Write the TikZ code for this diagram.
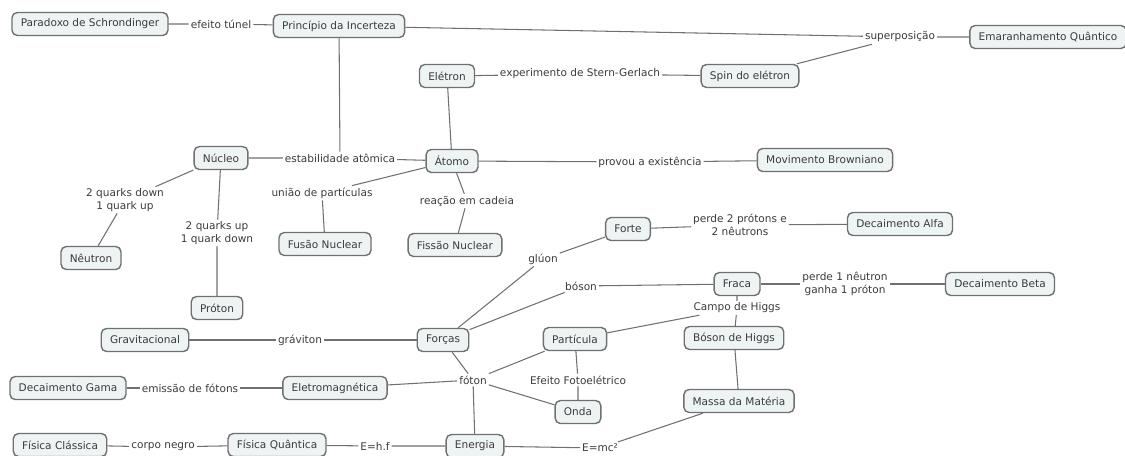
\documentclass[tikz,border=0pt]{standalone}
\usepackage{fontspec}
\setmainfont{DejaVu Sans}
\usepackage{tikz}
\definecolor{fundo}{HTML}{EEF3F4}
\definecolor{borda}{HTML}{707070}
\definecolor{texto}{HTML}{3C3C3C}
\tikzstyle{conceito} = [draw=borda, fill=fundo, line width=0.8pt, rectangle, rounded corners=3pt, minimum height=0.46cm, inner xsep=5pt, text=texto, font=\fontsize{6}{7}\selectfont]
\tikzstyle{ligacao} = [fill=white, inner sep=1pt, text=texto, align=center, font=\fontsize{6}{7}\selectfont]
\tikzstyle{linha} = [draw=borda, line width=0.6pt]

\begin{document}
\begin{tikzpicture}[x=0.02cm, y=-0.02cm]
	\useasboundingbox (0,0) rectangle (1125,456);
	% conceitos
	\node[conceito] (paradoxo) at (90,24) {Paradoxo de Schrondinger};
	\node[conceito] (incerteza) at (339,26) {Princípio da Incerteza};
	\node[conceito] (emaranhamento) at (1048,37) {Emaranhamento Quântico};
	\node[conceito] (eletron) at (447,76) {Elétron};
	\node[conceito] (spin) at (750,76) {Spin do elétron};
	\node[conceito] (nucleo) at (221,158) {Núcleo};
	\node[conceito] (atomo) at (452,161) {Átomo};
	\node[conceito] (browniano) at (825,160) {Movimento Browniano};
	\node[conceito] (forte) at (628,229) {Forte};
	\node[conceito] (alfa) at (900,224) {Decaimento Alfa};
	\node[conceito] (fusao) at (325,244) {Fusão Nuclear};
	\node[conceito] (fissao) at (455,245) {Fissão Nuclear};
	\node[conceito] (neutron) at (91,258) {Nêutron};
	\node[conceito] (proton) at (217,308) {Próton};
	\node[conceito] (fraca) at (737,284) {Fraca};
	\node[conceito] (beta) at (1000,284) {Decaimento Beta};
	\node[conceito] (gravitacional) at (145,340) {Gravitacional};
	\node[conceito] (forcas) at (443,340) {Forças};
	\node[conceito] (particula) at (575,339) {Partícula};
	\node[conceito] (higgs) at (734,338) {Bóson de Higgs};
	\node[conceito] (gama) at (68,388) {Decaimento Gama};
	\node[conceito] (eletromag) at (335,388) {Eletromagnética};
	\node[conceito] (onda) at (578,412) {Onda};
	\node[conceito] (massa) at (739,401) {Massa da Matéria};
	\node[conceito] (classica) at (60,445) {Física Clássica};
	\node[conceito] (quantica) at (277,445) {Física Quântica};
	\node[conceito] (energia) at (475,446) {Energia};
	% frases de ligacao
	\node[ligacao] (tunel) at (221,24) {efeito túnel};
	\node[ligacao] (superpos) at (900,37) {superposição};
	\node[ligacao] (stern) at (580,74) {experimento de Stern-Gerlach};
	\node[ligacao] (estab) at (340,158) {estabilidade atômica};
	\node[ligacao] (provou) at (650,162) {provou a existência};
	\node[ligacao] (uniao) at (322,193) {união de partículas};
	\node[ligacao] (reacao) at (467,201) {reação em cadeia};
	\node[ligacao] (qdown) at (125,200) {2 quarks down\\1 quark up};
	\node[ligacao] (qup) at (217,233) {2 quarks up\\1 quark down};
	\node[ligacao] (perde2) at (740,225) {perde 2 prótons e\\2 nêutrons};
	\node[ligacao] (gluon) at (543,259) {glúon};
	\node[ligacao] (boson) at (581,286) {bóson};
	\node[ligacao] (perde1) at (845,284) {perde 1 nêutron\\ganha 1 próton};
	\node[ligacao] (campo) at (737,308) {Campo de Higgs};
	\node[ligacao] (graviton) at (300,340) {gráviton};
	\node[ligacao] (foton) at (473,380) {fóton};
	\node[ligacao] (fotoel) at (578,380) {Efeito Fotoelétrico};
	\node[ligacao] (emissao) at (190,388) {emissão de fótons};
	\node[ligacao] (corpo) at (163,447) {corpo negro};
	\node[ligacao] (ehf) at (375,446) {E=h.f};
	\node[ligacao] (emc) at (600,448) {E=mc²};
	% ligacoes
	\draw[linha] (paradoxo) -- (tunel) -- (incerteza);
	\draw[linha] (incerteza) -- (superpos) -- (emaranhamento);
	\draw[linha] (spin) -- (superpos);
	\draw[linha] (incerteza) -- (estab);
	\draw[linha] (nucleo) -- (estab) -- (atomo);
	\draw[linha] (eletron) -- (stern) -- (spin);
	\draw[linha] (eletron) -- (atomo);
	\draw[linha] (atomo) -- (provou) -- (browniano);
	\draw[linha] (atomo) -- (uniao) -- (fusao);
	\draw[linha] (atomo) -- (reacao) -- (fissao);
	\draw[linha] (nucleo) -- (qdown) -- (neutron);
	\draw[linha] (nucleo) -- (qup) -- (proton);
	\draw[linha] (forte) -- (perde2) -- (alfa);
	\draw[linha] (forcas) -- (gluon) -- (forte);
	\draw[linha] (forcas) -- (boson) -- (fraca);
	\draw[linha] (fraca) -- (perde1) -- (beta);
	\draw[linha] (fraca) -- (campo) -- (higgs);
	\draw[linha] (particula) -- (campo);
	\draw[linha] (gravitacional) -- (graviton) -- (forcas);
	\draw[linha] (forcas) -- (foton) -- (particula);
	\draw[linha] (eletromag) -- (foton) -- (onda);
	\draw[linha] (foton) -- (energia);
	\draw[linha] (particula) -- (fotoel) -- (onda);
	\draw[linha] (higgs) -- (massa);
	\draw[linha] (gama) -- (emissao) -- (eletromag);
	\draw[linha] (classica) -- (corpo) -- (quantica);
	\draw[linha] (quantica) -- (ehf) -- (energia);
	\draw[linha] (energia) -- (emc) -- (massa);
\end{tikzpicture}
\end{document}
